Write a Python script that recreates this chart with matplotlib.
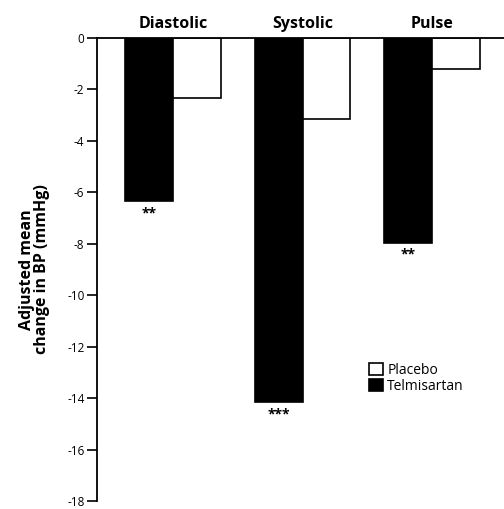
import matplotlib
matplotlib.use("Agg")
import matplotlib.pyplot as plt
from matplotlib.patches import Patch

categories = ["Diastolic", "Systolic", "Pulse"]
telmisartan = [-6.35, -14.15, -7.95]
placebo = [-2.35, -3.15, -1.2]
stars = ["**", "***", "**"]
yticks = [0, -2, -4, -6, -8, -10, -12, -14, -16, -18]

plt.rcParams['font.family'] = ['Open Sans', 'DejaVu Sans']

fig = plt.figure(figsize=(5.04, 5.09), dpi=100)
ax = fig.add_axes([0.1925, 0.0157, 0.8075, 0.9096])

x = range(len(categories))
w = 0.37
ax.bar([i - w/2 for i in x], telmisartan, width=w, color='black', edgecolor='black', linewidth=1.2)
ax.bar([i + w/2 for i in x], placebo, width=w, color='white', edgecolor='black', linewidth=1.2)

for i, (v, s) in enumerate(zip(telmisartan, stars)):
    ax.text(i - w/2, v - 0.2, s, ha='center', va='top', fontsize=10, fontweight='bold')

for i, c in enumerate(categories):
    ax.text(i, 0.25, c, ha='center', va='bottom', fontsize=11.5, fontweight='bold')

ax.set_xlim(-0.587, 2.556)
ax.set_ylim(-18, 0)
ax.set_yticks(yticks)
ax.set_yticklabels([str(t) for t in yticks], fontsize=8.5)
ax.set_xticks([])
for s in ['right', 'bottom']:
    ax.spines[s].set_visible(False)
ax.spines['left'].set_linewidth(1.3)
ax.spines['top'].set_linewidth(1.3)
ax.tick_params(axis='y', length=7, width=1.2, pad=2)
ax.set_ylabel("Adjusted mean\nchange in BP (mmHg)", fontsize=11.5, fontweight='bold', labelpad=12, linespacing=0.95)

handles = [Patch(facecolor='white', edgecolor='black', linewidth=1.2, label='Placebo'),
           Patch(facecolor='black', edgecolor='black', linewidth=1.2, label='Telmisartan')]
ax.legend(handles=handles, loc='upper left', bbox_to_anchor=(0.655, 0.31), frameon=False,
          fontsize=10, handlelength=1.0, handleheight=1.0, handletextpad=0.3, labelspacing=0.05,
          borderaxespad=0)

fig.savefig("out.png", dpi=100)
